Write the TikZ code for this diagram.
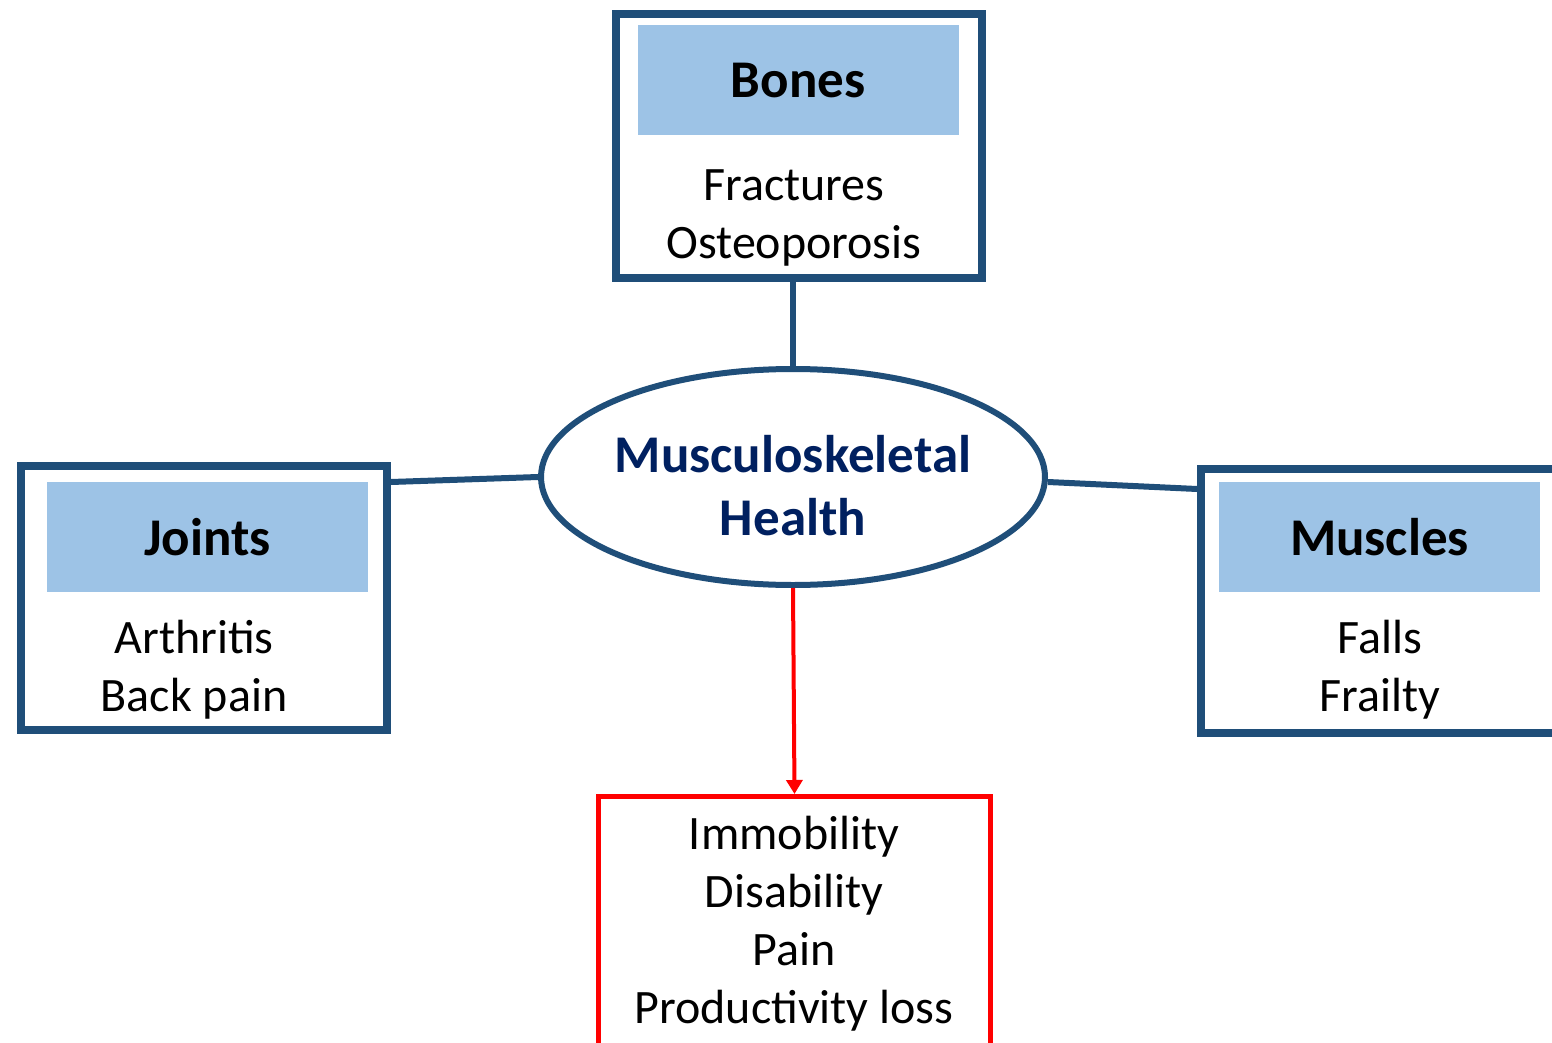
\documentclass[tikz,border=0pt]{standalone}
\usepackage{fontspec}
\setmainfont{Carlito}
\usetikzlibrary{shapes.geometric,arrows.meta}
\definecolor{boxblue}{RGB}{31,78,121}
\definecolor{fillblue}{RGB}{157,195,230}
\definecolor{navy}{RGB}{0,32,96}
\definecolor{redline}{RGB}{255,0,0}
\tikzset{
  outerbox/.style={draw=boxblue,line width=8pt,inner sep=0pt,minimum width=366pt,minimum height=264pt},
  headbox/.style={fill=fillblue,inner sep=0pt,minimum width=321pt,minimum height=110pt,font=\fontsize{53pt}{63pt}\selectfont\bfseries},
  itemtext/.style={align=center,inner sep=0pt,font=\fontsize{48pt}{58pt}\selectfont},
  link/.style={draw=boxblue,line width=6pt},
}
\begin{document}
\begin{tikzpicture}[x=1pt,y=-1pt]
\useasboundingbox (0,0) rectangle (1552,1043);
\clip (0,0) rectangle (1552,1043);
\fill[white] (0,0) rectangle (1552,1043);
% boxes
\node[outerbox] (bones) at (799,146) {};
\node[headbox] (bonesh) at (798,80.5) {Bones};
\node[itemtext,anchor=base] (bonest) at (794,258) {Fractures\\Osteoporosis};
\node[outerbox] (joints) at (204,598) {};
\node[headbox] (jointsh) at (207.5,537) {Joints};
\node[itemtext,anchor=base] (jointst) at (194,711) {Arthritis\\Back pain};
\node[outerbox] (muscles) at (1384,600.5) {};
\node[headbox] (musclesh) at (1379.5,537) {Muscles};
\node[itemtext,anchor=base] (musclest) at (1380,711) {Falls\\Frailty};
% ellipse
\node[ellipse,draw=boxblue,line width=6pt,minimum width=504pt,minimum height=216pt,inner sep=0pt] (ell) at (793,477) {};
\node[itemtext,text=navy,font=\fontsize{53pt}{63pt}\selectfont\bfseries,anchor=base] (ellt) at (793,535) {Musculoskeletal\\Health};
% red box
\node[draw=redline,line width=5pt,inner sep=0pt,minimum width=392pt,minimum height=320pt] (out) at (794.5,956.5) {};
\node[itemtext,anchor=base] (outt) at (794,1023) {Immobility\\Disability\\Pain\\Productivity loss};
% connectors
\draw[link] (ell.north |- bones.south) -- (ell.north);
\coordinate (jr) at (joints.east |- 0,482);
\coordinate (ml) at (muscles.west |- 0,489);
\draw[link] (jr) -- (ell.west);
\draw[link] (ell.east) ++(0,5) -- (ml);
\draw[redline,line width=4pt,-{Triangle[length=14pt,width=16pt]}] (ell.south) -- (out.north);
\end{tikzpicture}
\end{document}
